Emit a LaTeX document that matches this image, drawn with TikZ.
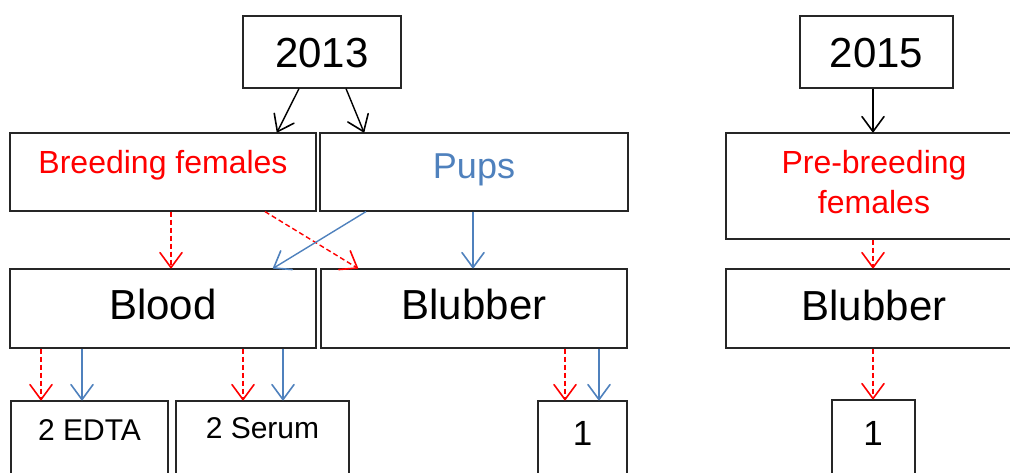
\documentclass[tikz,border=0pt]{standalone}
\usepackage{fontspec}
\setmainfont{Liberation Sans}
\usetikzlibrary{arrows.meta}
\definecolor{rd}{RGB}{255,0,0}
\definecolor{bl}{RGB}{79,129,189}
\tikzset{
  box/.style={draw=black!85, line width=1.2pt, inner sep=0pt},
  lbl/.style={anchor=base, inner sep=0pt},
  conn/.style={line width=1.4pt, -{Straight Barb[length=15pt,width=22pt,line width=1.6pt,round]}},
  blk/.style={conn, black},
  rdd/.style={conn, rd, dash pattern=on 5pt off 3pt},
  blu/.style={conn, bl},
}
\newcommand{\fs}[1]{\fontsize{#1}{#1}\selectfont}
\begin{document}
\begin{tikzpicture}[x=1pt,y=-1pt]
\useasboundingbox (0,0) rectangle (1010,472);
% boxes
\node[box, minimum width=158pt, minimum height=72pt] (y13) at (322,52) {};
\node[box, minimum width=306pt, minimum height=78pt] (bf) at (163,172) {};
\node[box, minimum width=308pt, minimum height=78pt] (pups) at (474,172) {};
\node[box, minimum width=306pt, minimum height=79pt] (blood) at (163,308.5) {};
\node[box, minimum width=306pt, minimum height=79pt] (blub) at (474,308.5) {};
\node[box, minimum width=157pt, minimum height=78pt] (edta) at (89.5,440) {};
\node[box, minimum width=173pt, minimum height=78pt] (serum) at (262.5,440) {};
\node[box, minimum width=89pt, minimum height=78pt] (one) at (582.5,440) {};
\node[box, minimum width=153pt, minimum height=72pt] (y15) at (876.5,52) {};
\node[box, minimum width=296pt, minimum height=106pt] (pbf) at (874,186) {};
\node[box, minimum width=296pt, minimum height=79pt] (blub2) at (874,308.5) {};
\node[box, minimum width=83pt, minimum height=80pt] (one2) at (873.5,440) {};
% texts
\node[lbl, font=\fs{42}] (t13) at (322,67) {2013};
\node[lbl, font=\fs{32}, text=rd] (tbf) at (163,173) {Breeding females};
\node[lbl, font=\fs{36}, text=bl] (tpups) at (474,178) {Pups};
\node[lbl, font=\fs{42}] (tblood) at (163,319) {Blood};
\node[lbl, font=\fs{42}] (tblub) at (474,319) {Blubber};
\node[lbl, font=\fs{30}] (tedta) at (89.5,440) {2 EDTA};
\node[lbl, font=\fs{30}] (tserum) at (262.5,438) {2 Serum};
\node[lbl, font=\fs{35}] (tone) at (582.5,445) {1};
\node[lbl, font=\fs{42}] (t15) at (876.5,67) {2015};
\node[lbl, font=\fs{32}, text=rd] (tpb1) at (874,173) {Pre-breeding};
\node[lbl, font=\fs{32}, text=rd] (tpb2) at (874,213) {females};
\node[lbl, font=\fs{42}] (tblub2) at (874,320) {Blubber};
\node[lbl, font=\fs{35}] (tone2) at (873,445) {1};
% connectors
\draw[blk] ([xshift=-23pt]y13.south) -- ([xshift=114pt]bf.north);
\draw[blk] ([xshift=24pt]y13.south) -- ([xshift=-110pt]pups.north);
\draw[blk] ([xshift=-3.5pt]y15.south) -- ([xshift=-1pt]pbf.north);
\draw[rdd] ([xshift=8pt]bf.south) -- ([xshift=8pt]blood.north);
\draw[rdd] ([xshift=102pt]bf.south) -- ([xshift=-116pt]blub.north);
\draw[blu] ([xshift=-108pt]pups.south) -- ([xshift=110pt]blood.north);
\draw[blu] ([xshift=-1pt]pups.south) -- ([xshift=-1pt]blub.north);
\draw[rdd] ([xshift=-122pt]blood.south) -- ([xshift=-48.5pt]edta.north);
\draw[blu] ([xshift=-81pt]blood.south) -- ([xshift=-7.5pt]edta.north);
\draw[rdd] ([xshift=80pt]blood.south) -- ([xshift=-19.5pt]serum.north);
\draw[blu] ([xshift=120pt]blood.south) -- ([xshift=20.5pt]serum.north);
\draw[rdd] ([xshift=91pt]blub.south) -- ([xshift=-17.5pt]one.north);
\draw[blu] ([xshift=125pt]blub.south) -- ([xshift=16.5pt]one.north);
\draw[rdd] ([xshift=-1pt]pbf.south) -- ([xshift=-1pt]blub2.north);
\draw[rdd] ([xshift=-1pt]blub2.south) -- ([xshift=-0.5pt]one2.north);
\end{tikzpicture}
\end{document}
